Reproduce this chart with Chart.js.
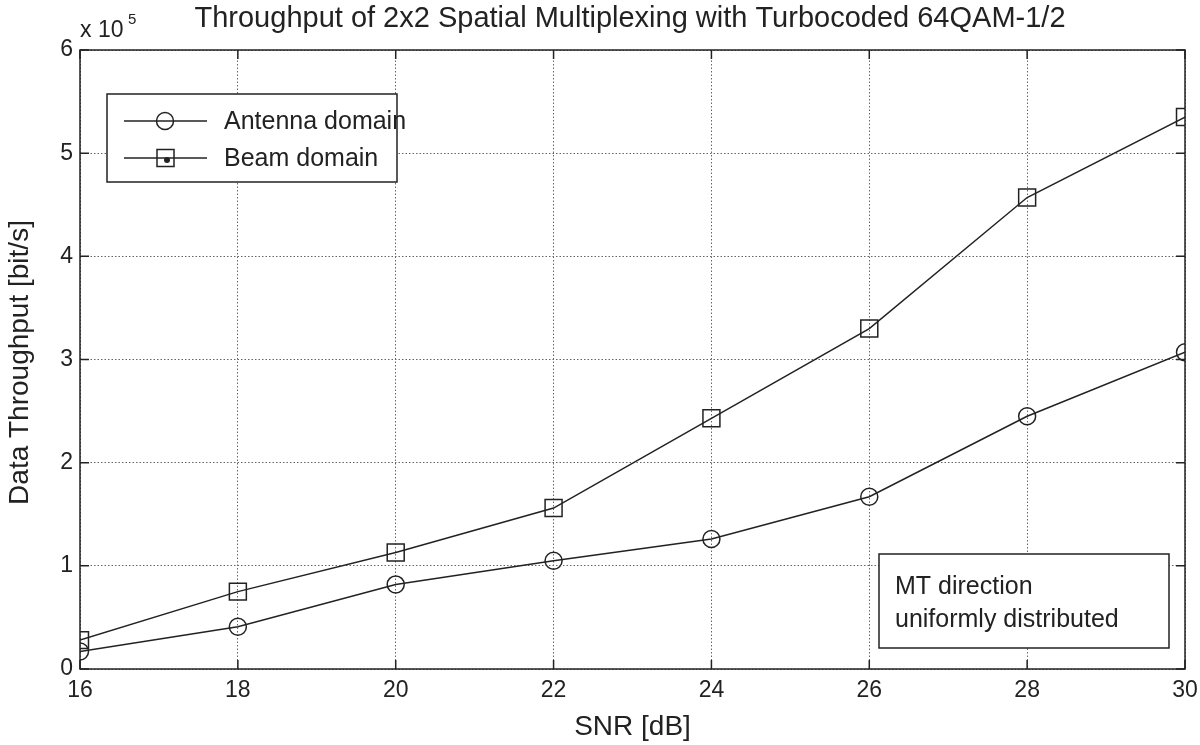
<!DOCTYPE html>
<html>
<head>
<meta charset="utf-8">
<script src="https://cdn.jsdelivr.net/npm/chart.js@4/dist/chart.umd.min.js"></script>
<style>
  html, body { margin: 0; padding: 0; background: #fff; }
</style>
</head>
<body>
<canvas id="c" width="1200" height="745"></canvas>
<script>
const snr = [16, 18, 20, 22, 24, 26, 28, 30];
const antenna = [17000, 41000, 82000, 105000, 126000, 167000, 245000, 307000];
const beam = [28000, 75000, 113000, 156000, 243000, 330000, 457000, 535000];
const xTicks = [16, 18, 20, 22, 24, 26, 28, 30];
const yTicks = [0, 100000, 200000, 300000, 400000, 500000, 600000];

const FONT = "'Liberation Sans', Arial, Helvetica, sans-serif";
const INK = "#222";

// box, inner ticks, titles, legend and text box in MATLAB style
const decor = {
  id: "decor",
  beforeDatasetsDraw(chart) {
    const { ctx, chartArea: a, scales: { x, y } } = chart;
    ctx.save();
    ctx.strokeStyle = INK;
    ctx.lineWidth = 1.5;
    ctx.beginPath();
    xTicks.forEach(v => {
      const px = x.getPixelForValue(v);
      ctx.moveTo(px, a.bottom); ctx.lineTo(px, a.bottom - 9);
      ctx.moveTo(px, a.top); ctx.lineTo(px, a.top + 9);
    });
    yTicks.forEach(v => {
      const py = y.getPixelForValue(v);
      ctx.moveTo(a.left, py); ctx.lineTo(a.left + 9, py);
      ctx.moveTo(a.right, py); ctx.lineTo(a.right - 9, py);
    });
    ctx.stroke();
    ctx.strokeRect(a.left, a.top, a.right - a.left, a.bottom - a.top);
    ctx.restore();
  },
  afterDraw(chart) {
    const { ctx, chartArea: a } = chart;
    ctx.save();
    ctx.fillStyle = INK;
    ctx.strokeStyle = INK;

    // title
    ctx.font = "29px " + FONT;
    ctx.textAlign = "center";
    ctx.textBaseline = "alphabetic";
    ctx.fillText("Throughput of 2x2 Spatial Multiplexing with Turbocoded 64QAM-1/2", 630, 27);

    // axis titles
    ctx.font = "28px " + FONT;
    ctx.fillText("SNR [dB]", (a.left + a.right) / 2, 735);
    ctx.save();
    ctx.translate(28, (a.top + a.bottom) / 2 + 3);
    ctx.rotate(-Math.PI / 2);
    ctx.fillText("Data Throughput [bit/s]", 0, 0);
    ctx.restore();

    // exponent label
    ctx.textAlign = "left";
    ctx.font = "23px " + FONT;
    ctx.fillText("x 10", 80, 37);
    ctx.font = "15px " + FONT;
    ctx.fillText("5", 128, 24);

    // legend
    ctx.fillStyle = "#fff";
    ctx.fillRect(107, 94, 290, 88);
    ctx.lineWidth = 1.5;
    ctx.strokeRect(107, 94, 290, 88);
    ctx.fillStyle = INK;
    const rows = [{ y: 121, label: "Antenna domain" }, { y: 158, label: "Beam domain" }];
    rows.forEach((r, i) => {
      ctx.beginPath();
      ctx.moveTo(124, r.y); ctx.lineTo(207, r.y);
      ctx.stroke();
      ctx.beginPath();
      if (i === 0) {
        ctx.arc(165, r.y, 8.5, 0, Math.PI * 2);
        ctx.stroke();
      } else {
        ctx.strokeRect(157, r.y - 8.5, 17, 17);
        ctx.beginPath();
        ctx.arc(167, r.y + 2, 3, 0, Math.PI * 2);
        ctx.fill();
      }
      ctx.font = "25px " + FONT;
      ctx.textBaseline = "middle";
      ctx.fillText(r.label, 224, r.y + 1);
    });

    // text box
    ctx.fillStyle = "#fff";
    ctx.fillRect(879, 554, 290, 94);
    ctx.strokeRect(879, 554, 290, 94);
    ctx.fillStyle = INK;
    ctx.textBaseline = "alphabetic";
    ctx.font = "25px " + FONT;
    ctx.fillText("MT direction", 895, 594);
    ctx.fillText("uniformly distributed", 895, 627);
    ctx.restore();
  }
};

new Chart(document.getElementById("c"), {
  type: "line",
  data: {
    datasets: [
      {
        label: "Antenna domain",
        data: snr.map((s, i) => ({ x: s, y: antenna[i] })),
        borderColor: INK,
        borderWidth: 1.5,
        pointStyle: "circle",
        pointRadius: 8.5,
        pointBorderWidth: 1.5,
        pointBorderColor: INK,
        pointBackgroundColor: "rgba(0,0,0,0)",
        tension: 0
      },
      {
        label: "Beam domain",
        data: snr.map((s, i) => ({ x: s, y: beam[i] })),
        borderColor: INK,
        borderWidth: 1.5,
        pointStyle: "rect",
        pointRadius: 12,
        pointBorderWidth: 1.5,
        pointBorderColor: INK,
        pointBackgroundColor: "rgba(0,0,0,0)",
        tension: 0
      }
    ]
  },
  options: {
    responsive: false,
    animation: false,
    devicePixelRatio: 1,
    layout: { padding: { left: 0, right: 15, top: 50, bottom: 0 } },
    plugins: {
      legend: { display: false },
      tooltip: { enabled: false },
      title: { display: false }
    },
    scales: {
      x: {
        type: "linear",
        min: 16,
        max: 30,
        afterBuildTicks: s => { s.ticks = xTicks.map(v => ({ value: v })); },
        afterFit: s => { s.height = 76; s.paddingLeft = 0; s.paddingRight = 0; },
        grid: { color: "#666", lineWidth: 1, drawTicks: false },
        border: { display: false, dash: [1.5, 2] },
        ticks: {
          color: INK,
          padding: 8,
          maxRotation: 0,
          minRotation: 0,
          font: { family: FONT, size: 23 }
        }
      },
      y: {
        type: "linear",
        min: 0,
        max: 600000,
        afterBuildTicks: s => { s.ticks = yTicks.map(v => ({ value: v })); },
        afterFit: s => { s.width = 80; s.paddingTop = 0; s.paddingBottom = 0; },
        grid: { color: "#666", lineWidth: 1, drawTicks: false },
        border: { display: false, dash: [1.5, 2] },
        ticks: {
          color: INK,
          padding: 7,
          font: { family: FONT, size: 23 },
          callback: v => String(v / 100000)
        }
      }
    }
  },
  plugins: [decor]
});
</script>
</body>
</html>
